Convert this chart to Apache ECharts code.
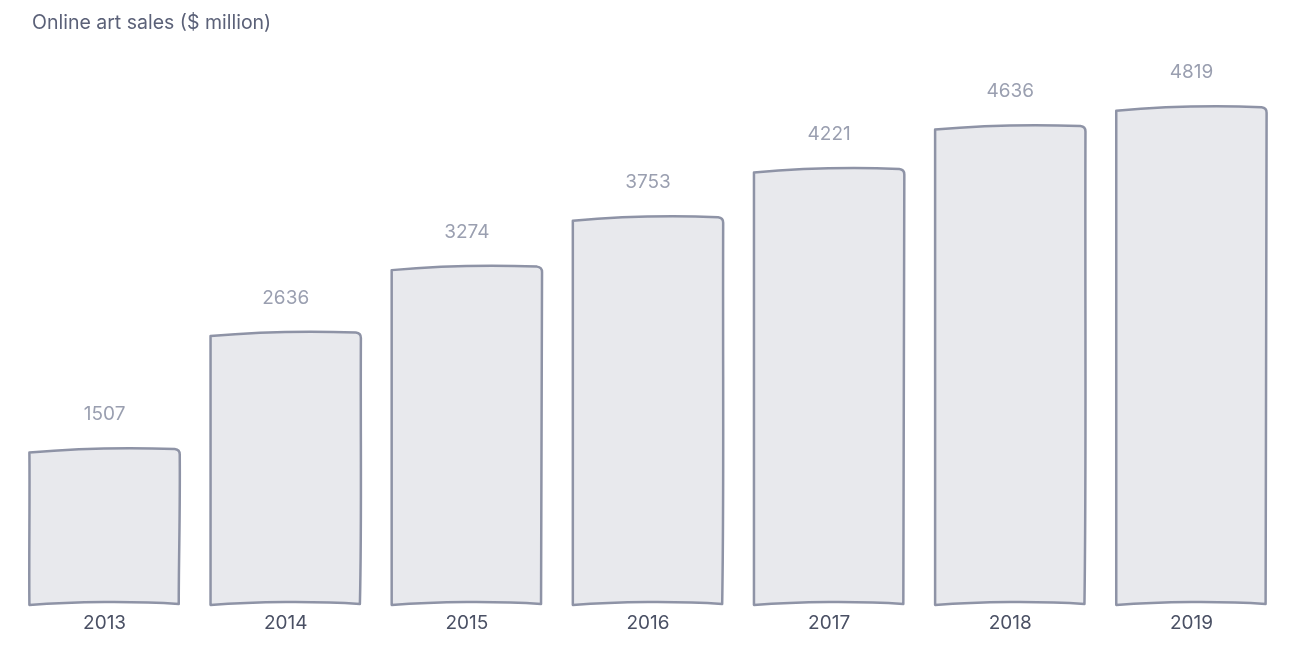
<!DOCTYPE html>
<html>
<head>
<meta charset="utf-8">
<script src="https://cdn.jsdelivr.net/npm/echarts@6/dist/echarts.min.js"></script>
<style>
html,body{margin:0;padding:0;background:#fff;}
#chart{width:1302px;height:652px;}
</style>
</head>
<body>
<div id="chart"></div>
<script>
const years = ['2013','2014','2015','2016','2017','2018','2019'];
const sales = [1507, 2636, 3274, 3753, 4221, 4636, 4819];
const titleText = 'Online art sales ($ million)';

const chart = echarts.init(document.getElementById('chart'));
const FONT = 'Inter, "Noto Sans", sans-serif';

function renderItem(params, api) {
  const i = api.value(0);
  const v = api.value(1);
  const top = api.coord([i, v]);
  const base = api.coord([i, 0]);
  const band = api.size([1, 0])[0];
  const w = band * 0.83;
  const cx = top[0];
  const L = cx - w / 2, R = cx + w / 2, T = top[1], B = base[1];
  const s = (i % 2 === 0) ? 1 : -1;
  const d = [
    'M', L, T + 3,
    'C', L + w * 0.3, T - 1, L + w * 0.6, T - 2.5, R - 5, T - 0.5,
    'Q', R, T, R, T + 5,
    'C', R + 0.5 * s, T + (B - T) * 0.4, R - 1 * s, B - (B - T) * 0.3, R - 1, B - 1,
    'C', R - w * 0.3, B - 4, L + w * 0.3, B - 3.5, L, B,
    'C', L - 0.5 * s, B - (B - T) * 0.3, L + 0.5 * s, T + (B - T) * 0.3, L, T + 3,
    'Z'
  ].join(' ');
  return {
    type: 'group',
    children: [
      {
        type: 'path',
        shape: { pathData: d },
        style: { fill: '#e8e9ed', stroke: '#8e93a6', lineWidth: 2.5, lineJoin: 'round' }
      },
      {
        type: 'text',
        x: cx, y: T - 35,
        style: {
          text: String(v), fill: '#9a9fb0', fontSize: 19, fontFamily: FONT,
          align: 'center', verticalAlign: 'middle'
        }
      }
    ]
  };
}

chart.setOption({
  animation: false,
  title: {
    text: titleText, left: 27, top: 8,
    textStyle: { fontSize: 19.5, fontWeight: 'normal', color: '#5b6178', fontFamily: FONT }
  },
  grid: { left: 14, right: 20, top: 89, bottom: 47 },
  xAxis: {
    type: 'category', data: years,
    axisLine: { show: false }, axisTick: { show: false },
    axisLabel: { fontSize: 19, color: '#4a5064', fontFamily: FONT, margin: 9 }
  },
  yAxis: {
    type: 'value', min: 0, max: 5000,
    show: false, splitLine: { show: false }
  },
  series: [{
    type: 'custom',
    renderItem: renderItem,
    encode: { x: 0, y: 1 },
    data: sales.map((v, i) => [i, v])
  }]
});
</script>
</body>
</html>
